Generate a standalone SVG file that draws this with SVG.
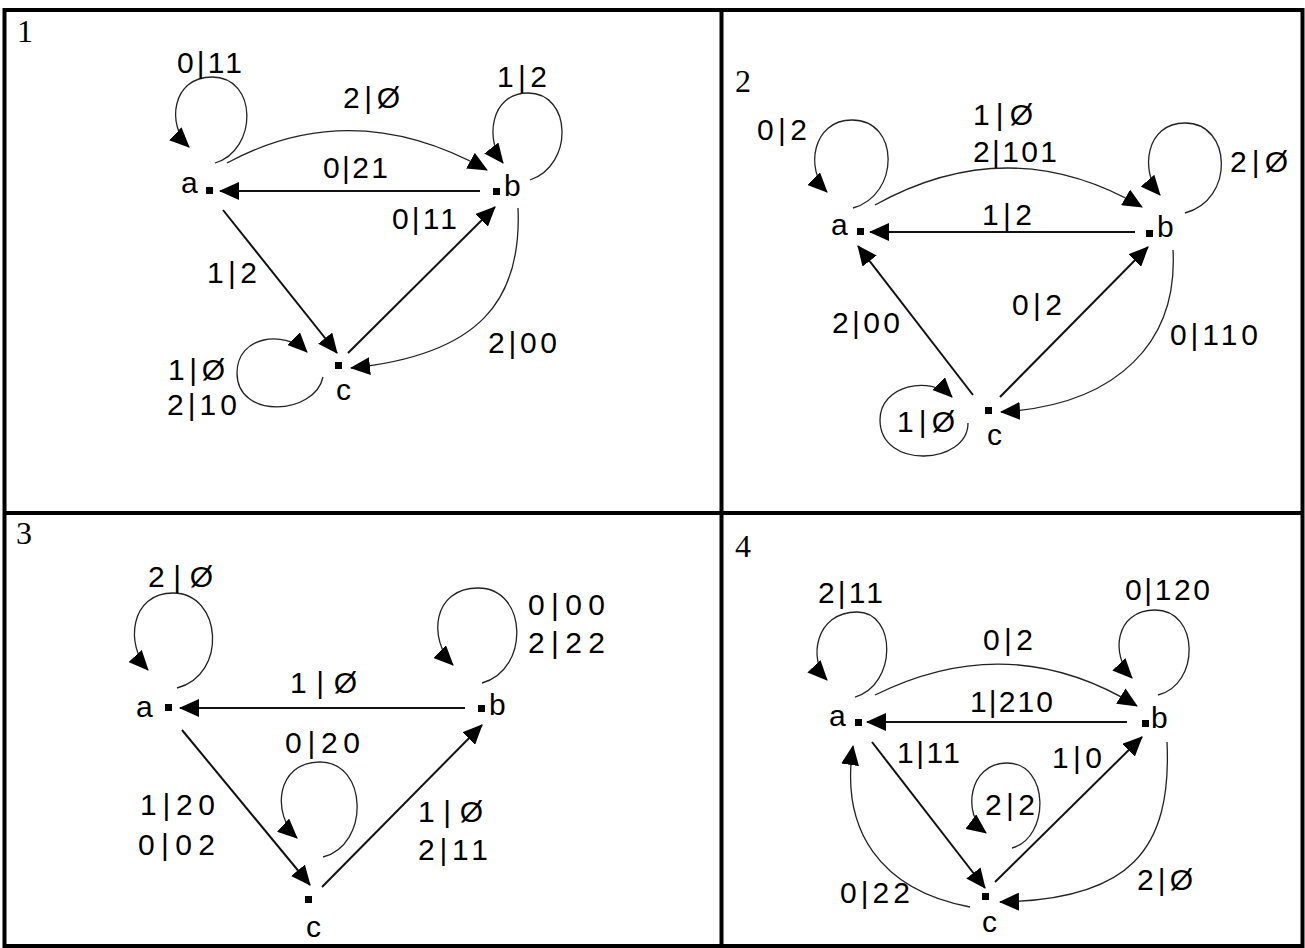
<svg xmlns="http://www.w3.org/2000/svg" width="1305" height="948" viewBox="0 0 1305 948">
<style>
.frame{fill:none;stroke:#000;stroke-width:4}
.num{font-family:"Liberation Serif","Times New Roman",serif;font-size:32px;fill:#000}
.lbl{font-family:"Liberation Sans",Arial,sans-serif;font-size:30px;fill:#000}
.nl{font-family:"Liberation Sans",Arial,sans-serif;font-size:30px;fill:#000}
.sq{fill:#000}
.st{fill:none;stroke:#111;stroke-width:2;marker-end:url(#ah)}
.cv{fill:none;stroke:#222;stroke-width:1.3;marker-end:url(#ah)}
</style>
<defs>
<marker id="ah" markerUnits="userSpaceOnUse" viewBox="0 0 20 18" markerWidth="20" markerHeight="18" refX="19" refY="9" orient="auto">
<path d="M0,0 L20,9 L0,18 z" fill="#000"/>
</marker>
</defs>
<rect width="1305" height="948" fill="#fff"/>
<g id="frame">
<rect class="frame" x="4.5" y="10" width="1298" height="936"/>
<line class="frame" x1="721.5" y1="10" x2="721.5" y2="946"/>
<line class="frame" x1="4.5" y1="513" x2="1302.5" y2="513"/>
<text class="num" x="17" y="42">1</text>
<text class="num" x="735" y="92">2</text>
<text class="num" x="16" y="544">3</text>
<text class="num" x="735" y="557">4</text>
</g>

<!-- Panel 1 -->
<g id="p1-connectors">
<path class="cv" d="M215,163 C258,150 258,77 212,77 C172,77 166,125 189,147"/>
<path class="cv" d="M227,163 Q353,95 487,170"/>
<path class="cv" d="M530,180 C574,165 572,93 528,93 C490,93 485,140 503,163"/>
<path class="st" d="M480,191 L220,191"/>
<path class="st" d="M348,353 L495,207"/>
<path class="st" d="M223,210 L337,353"/>
<path class="cv" d="M518,208 C522,300 480,355 351,368"/>
<path class="cv" d="M323,377 C315,415 237,420 237,373 C237,335 285,330 307,352"/>
<text class="lbl" x="177" y="73" textLength="65" lengthAdjust="spacing">0|11</text>
<text class="lbl" x="343" y="108" textLength="57" lengthAdjust="spacing">2|Ø</text>
<text class="lbl" x="497" y="87" textLength="50" lengthAdjust="spacing">1|2</text>
<text class="lbl" x="323" y="178" textLength="65" lengthAdjust="spacing">0|21</text>
<text class="lbl" x="392" y="229" textLength="65" lengthAdjust="spacing">0|11</text>
<text class="lbl" x="207" y="283" textLength="50" lengthAdjust="spacing">1|2</text>
<text class="lbl" x="488" y="353" textLength="69" lengthAdjust="spacing">2|00</text>
<text class="lbl" x="168" y="380" textLength="57" lengthAdjust="spacing">1|Ø</text>
<text class="lbl" x="167" y="415" textLength="70" lengthAdjust="spacing">2|10</text>
</g>
<g id="p1-a"><rect class="sq" x="206" y="187" width="7" height="7"/><text class="nl" x="181" y="193">a</text></g>
<g id="p1-b"><rect class="sq" x="493" y="188" width="7" height="7"/><text class="nl" x="504" y="196">b</text></g>
<g id="p1-c"><rect class="sq" x="335" y="362" width="7" height="7"/><text class="nl" x="336" y="400">c</text></g>

<!-- Panel 2 -->
<g id="p2-connectors">
<path class="cv" d="M853,208 C900,195 900,120 852,120 C812,120 805,170 827,192"/>
<path class="cv" d="M875,205 Q1010,130 1142,207"/>
<path class="cv" d="M1185,213 C1235,200 1232,123 1185,123 C1145,123 1140,172 1160,195"/>
<path class="st" d="M1135,232 L870,232"/>
<path class="st" d="M973,395 L858,246"/>
<path class="st" d="M1000,397 L1148,247"/>
<path class="cv" d="M1173,250 C1178,340 1120,405 1001,412"/>
<path class="cv" d="M968,423 C968,465 880,470 880,420 C880,385 930,375 952,397"/>
<text class="lbl" x="757" y="140" textLength="50" lengthAdjust="spacing">0|2</text>
<text class="lbl" x="973" y="125" textLength="60" lengthAdjust="spacing">1|Ø</text>
<text class="lbl" x="973" y="162" textLength="84" lengthAdjust="spacing">2|101</text>
<text class="lbl" x="1230" y="172" textLength="58" lengthAdjust="spacing">2|Ø</text>
<text class="lbl" x="982" y="225" textLength="50" lengthAdjust="spacing">1|2</text>
<text class="lbl" x="832" y="333" textLength="68" lengthAdjust="spacing">2|00</text>
<text class="lbl" x="1012" y="315" textLength="50" lengthAdjust="spacing">0|2</text>
<text class="lbl" x="1170" y="345" textLength="88" lengthAdjust="spacing">0|110</text>
<text class="lbl" x="897" y="432" textLength="58" lengthAdjust="spacing">1|Ø</text>
</g>
<g id="p2-a"><rect class="sq" x="857" y="228" width="7" height="7"/><text class="nl" x="831" y="235">a</text></g>
<g id="p2-b"><rect class="sq" x="1146" y="230" width="7" height="7"/><text class="nl" x="1157" y="237">b</text></g>
<g id="p2-c"><rect class="sq" x="985" y="407" width="7" height="7"/><text class="nl" x="987" y="445">c</text></g>

<!-- Panel 3 -->
<g id="p3-connectors">
<path class="cv" d="M177,688 C228,675 222,593 173,593 C130,593 125,645 148,670"/>
<path class="st" d="M465,708 L180,708"/>
<path class="cv" d="M482,683 C530,670 528,588 478,588 C432,588 428,640 453,665"/>
<path class="st" d="M182,730 L310,885"/>
<path class="st" d="M322,887 L482,725"/>
<path class="cv" d="M323,857 C370,845 368,762 320,762 C275,762 272,815 297,838"/>
<text class="lbl" x="148" y="587" textLength="65" lengthAdjust="spacing">2|Ø</text>
<text class="lbl" x="290" y="693" textLength="67" lengthAdjust="spacing">1|Ø</text>
<text class="lbl" x="528" y="615" textLength="77" lengthAdjust="spacing">0|00</text>
<text class="lbl" x="528" y="653" textLength="77" lengthAdjust="spacing">2|22</text>
<text class="lbl" x="285" y="753" textLength="75" lengthAdjust="spacing">0|20</text>
<text class="lbl" x="140" y="815" textLength="75" lengthAdjust="spacing">1|20</text>
<text class="lbl" x="138" y="855" textLength="77" lengthAdjust="spacing">0|02</text>
<text class="lbl" x="418" y="822" textLength="65" lengthAdjust="spacing">1|Ø</text>
<text class="lbl" x="418" y="860" textLength="70" lengthAdjust="spacing">2|11</text>
</g>
<g id="p3-a"><rect class="sq" x="165" y="704" width="7" height="7"/><text class="nl" x="136" y="717">a</text></g>
<g id="p3-b"><rect class="sq" x="478" y="705" width="7" height="7"/><text class="nl" x="489" y="715">b</text></g>
<g id="p3-c"><rect class="sq" x="305" y="896" width="7" height="7"/><text class="nl" x="306" y="937">c</text></g>

<!-- Panel 4 -->
<g id="p4-connectors">
<path class="cv" d="M855,697 C897,685 897,612 857,612 C815,612 808,660 827,680"/>
<path class="cv" d="M1158,695 C1200,685 1200,610 1155,610 C1115,610 1110,655 1132,678"/>
<path class="cv" d="M875,695 Q1010,628 1137,706"/>
<path class="st" d="M1127,722 L867,722"/>
<path class="st" d="M872,742 L985,888"/>
<path class="st" d="M995,882 L1142,737"/>
<path class="cv" d="M1012,848 C1050,838 1050,763 1007,763 C968,763 962,815 986,833"/>
<path class="cv" d="M970,907 C880,890 840,830 853,746"/>
<path class="cv" d="M1167,742 C1172,850 1130,900 1000,902"/>
<text class="lbl" x="818" y="603" textLength="65" lengthAdjust="spacing">2|11</text>
<text class="lbl" x="1125" y="600" textLength="85" lengthAdjust="spacing">0|120</text>
<text class="lbl" x="983" y="650" textLength="50" lengthAdjust="spacing">0|2</text>
<text class="lbl" x="970" y="712" textLength="83" lengthAdjust="spacing">1|210</text>
<text class="lbl" x="897" y="763" textLength="63" lengthAdjust="spacing">1|11</text>
<text class="lbl" x="1052" y="768" textLength="50" lengthAdjust="spacing">1|0</text>
<text class="lbl" x="985" y="815" textLength="50" lengthAdjust="spacing">2|2</text>
<text class="lbl" x="840" y="903" textLength="70" lengthAdjust="spacing">0|22</text>
<text class="lbl" x="1137" y="890" textLength="56" lengthAdjust="spacing">2|Ø</text>
</g>
<g id="p4-a"><rect class="sq" x="855" y="719" width="7" height="7"/><text class="nl" x="829" y="726">a</text></g>
<g id="p4-b"><rect class="sq" x="1142" y="720" width="7" height="7"/><text class="nl" x="1151" y="728">b</text></g>
<g id="p4-c"><rect class="sq" x="982" y="893" width="7" height="7"/><text class="nl" x="982" y="932">c</text></g>
</svg>
